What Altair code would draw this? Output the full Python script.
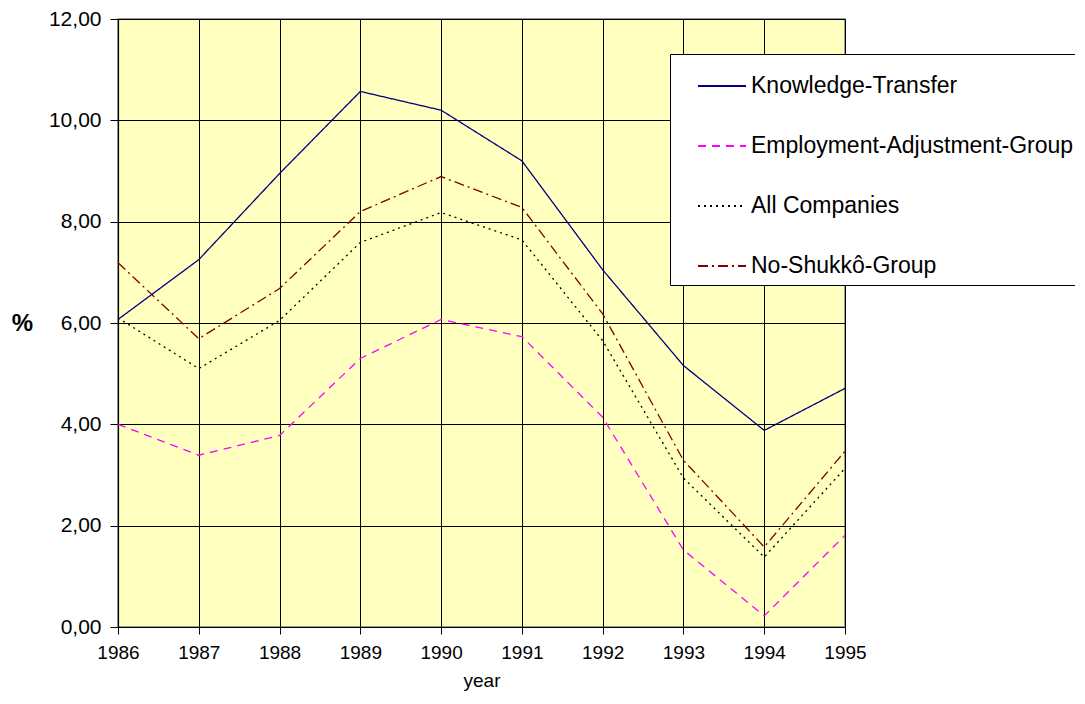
import altair as alt
import pandas as pd

years = [1986, 1987, 1988, 1989, 1990, 1991, 1992, 1993, 1994, 1995]
series_names = ["Knowledge-Transfer", "Employment-Adjustment-Group", "All Companies", "No-Shukkô-Group"]
knowledge = [6.07, 7.25, 8.95, 10.57, 10.20, 9.20, 7.05, 5.16, 3.88, 4.71]
employment = [4.00, 3.39, 3.78, 5.30, 6.07, 5.73, 4.14, 1.52, 0.22, 1.81]
all_companies = [6.10, 5.10, 6.05, 7.59, 8.18, 7.64, 5.65, 2.94, 1.38, 3.13]
no_shukko = [7.19, 5.69, 6.68, 8.20, 8.89, 8.28, 6.18, 3.29, 1.58, 3.47]
colors = ["#000080", "#FF00FF", "#000000", "#800000"]
dashes = [[1, 0], [8, 6], [2, 4], [10, 4, 2, 4]]

rows = []
for name, vals in zip(series_names, [knowledge, employment, all_companies, no_shukko]):
    for y, v in zip(years, vals):
        rows.append({"year": y, "value": v, "series": name})
df = pd.DataFrame(rows)

legend_opts = dict(title=None, orient="none", legendX=552, legendY=35,
                   fillColor="white", strokeColor="black", padding=7,
                   symbolOffset=20, labelFontSize=23, rowPadding=23, symbolType="stroke",
                   symbolSize=2304, symbolStrokeWidth=1.8, labelOffset=4, labelLimit=500)

chart = alt.Chart(df).mark_line(strokeWidth=1.3).encode(
    x=alt.X("year:Q",
            scale=alt.Scale(domain=[1986, 1995], nice=False, zero=False),
            axis=alt.Axis(values=years, format="d", title="year", labelFlush=False,
                          labelFontSize=19, titleFontSize=19, titleFontWeight="normal",
                          labelPadding=9, titlePadding=9, tickSize=7,
                          grid=True)),
    y=alt.Y("value:Q",
            scale=alt.Scale(domain=[0, 12], nice=False),
            axis=alt.Axis(values=[0, 2, 4, 6, 8, 10, 12], labelFlush=False,
                          labelExpr="replace(format(datum.value, '.2f'), '.', ',')",
                          title="%", titleAngle=0, titleFontSize=24, titleFontWeight="bold",
                          titleX=-96, titleY=304, titleAlign="center", titleBaseline="middle",
                          labelFontSize=21, labelPadding=9, tickSize=8, grid=True)),
    color=alt.Color("series:N",
                    scale=alt.Scale(domain=series_names, range=colors),
                    sort=series_names,
                    legend=alt.Legend(**legend_opts)),
    strokeDash=alt.StrokeDash("series:N",
                              scale=alt.Scale(domain=series_names, range=dashes),
                              sort=series_names,
                              legend=alt.Legend(**legend_opts)),
).properties(
    width=727, height=608,
    autosize=alt.AutoSizeParams(type="none"),
    padding={"left": 110, "top": 11, "right": 230, "bottom": 69},
).configure(
    font="Liberation Sans",
).configure_view(
    fill="#FFFFC0", stroke="#808080", strokeWidth=1.5,
).configure_axis(
    gridColor="#000000", gridOpacity=1, gridWidth=1,
    domainColor="#000000", domainWidth=1.2, tickColor="#000000",
    labelColor="#000000", titleColor="#000000", labelFont="Liberation Sans", titleFont="Liberation Sans",
).configure_legend(
    labelFont="Liberation Sans", labelColor="#000000", strokeWidth=1,
)

chart.save("out.html", embed_options={"renderer": "svg", "actions": False})
